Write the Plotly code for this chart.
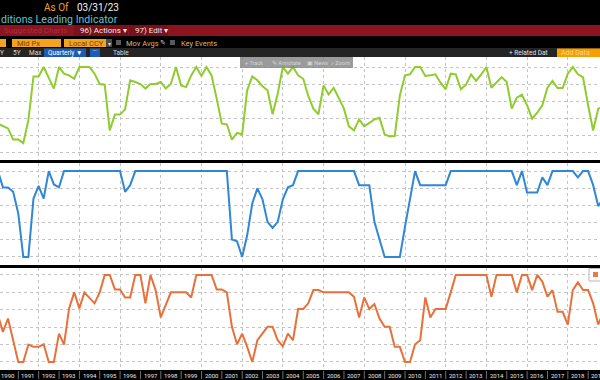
import plotly.graph_objects as go

# ---------------- data (quarter-end observations) ----------------
dates = []
for yr in range(1989, 2020):
    for md in ["03-31", "06-30", "09-30", "12-31"]:
        d = f"{yr}-{md}"
        if "1989-12-31" <= d <= "2019-09-30":
            dates.append(d)

green_vals = [1.67, 1.53, 1.39, 0.73, 0.73, 0.53, 1.86, 4.45, 4.45, 5.0, 4.41,
              3.73, 5.0, 4.61, 4.51, 4.31, 5.0, 5.0, 5.0, 4.61, 4.0,
              3.96, 1.27, 2.2, 2.2, 2.51, 4.22, 4.12, 4.0, 3.73, 4.0,
              4.0, 4.12, 3.73, 4.0, 5.0, 3.92, 3.82, 4.51, 5.0, 4.47,
              5.0, 4.51, 3.14, 1.67, 1.63, 0.73, 1.12, 1.04, 3.63, 4.45,
              4.22, 3.86, 3.63, 2.22, 3.43, 5.0, 4.61, 5.0, 4.51, 4.31,
              3.31, 2.55, 2.22, 3.92, 3.39, 3.78, 3.18, 2.55, 1.51, 1.27,
              1.92, 1.51, 1.71, 1.92, 2.02, 1.04, 0.92, 0.94, 3.33, 4.51,
              4.57, 5.0, 5.0, 4.47, 4.51, 4.57, 4.08, 3.69, 4.61, 4.57,
              3.69, 3.96, 4.57, 4.18, 4.57, 5.0, 3.78, 4.12, 4.41, 4.12,
              2.55, 3.2, 3.37, 2.75, 1.96, 2.31, 2.75, 3.78, 4.18, 3.76,
              3.76, 4.61, 5.0, 4.57, 4.41, 2.75, 1.27, 2.55, 2.65]

blue_vals = [5.0, 4.05, 4.05, 3.79, 2.53, 0.0, 0.0, 3.4, 4.14, 3.4, 5.0,
             4.22, 4.05, 5.0, 5.0, 5.0, 5.0, 5.0, 5.0, 5.0, 5.0,
             5.0, 5.0, 5.0, 5.0, 3.79, 4.18, 5.0, 5.0, 5.0, 5.0,
             5.0, 5.0, 5.0, 5.0, 5.0, 5.0, 5.0, 5.0, 5.0, 5.0,
             5.0, 5.0, 5.0, 5.0, 5.0, 1.01, 0.91, 0.0, 1.26, 3.11,
             3.99, 3.35, 2.04, 1.69, 2.04, 3.35, 4.05, 4.18, 5.0, 5.0,
             5.0, 5.0, 5.0, 5.0, 5.0, 5.0, 5.0, 5.0, 5.0, 5.0,
             4.18, 4.18, 4.18, 2.04, 1.07, 0.0, 0.0, 0.0, 0.0, 1.75,
             3.39, 5.0, 4.18, 4.18, 4.18, 4.18, 4.18, 4.18, 5.0, 5.0,
             5.0, 5.0, 5.0, 5.0, 5.0, 5.0, 5.0, 5.0, 5.0, 5.0,
             5.0, 4.18, 5.0, 3.75, 3.75, 3.75, 4.63, 4.18, 5.0, 5.0,
             5.0, 5.0, 5.0, 4.63, 5.0, 5.0, 4.18, 2.96, 3.4]

orange_vals = [2.69, 1.73, 2.5, 1.25, 0.0, 0.0, 1.0, 0.87, 0.87, 1.02, 0.0,
               0.0, 1.63, 1.0, 3.08, 4.0, 3.08, 4.0, 3.71, 3.37, 4.0,
               5.0, 5.0, 4.17, 4.17, 3.71, 3.71, 5.0, 5.0, 3.37, 5.0,
               4.13, 2.56, 3.27, 4.0, 4.0, 4.0, 4.0, 3.71, 5.0, 5.0,
               5.0, 5.0, 4.17, 4.17, 4.0, 2.02, 1.02, 1.63, 0.87, 0.0,
               1.25, 1.63, 2.02, 2.02, 1.25, 0.9, 1.63, 1.25, 3.04, 3.04,
               3.37, 4.13, 4.13, 4.0, 4.0, 4.0, 4.0, 4.0, 4.0, 3.75,
               2.56, 3.71, 3.04, 3.33, 2.5, 2.02, 2.02, 0.87, 0.87, 0.0,
               0.0, 1.02, 1.25, 3.71, 2.56, 3.04, 3.04, 3.04, 4.0, 5.0,
               5.0, 5.0, 5.0, 5.0, 5.0, 5.0, 3.75, 5.0, 5.0, 5.0,
               5.0, 4.0, 5.0, 5.0, 4.13, 5.0, 4.62, 3.75, 4.13, 2.88,
               2.88, 2.15, 4.13, 4.58, 4.13, 4.13, 3.37, 2.15, 2.88]

year_labels = [str(y) for y in range(1990, 2020)]

# ---------------- figure ----------------
W, H = 600, 380
def px(x): return x / W
def py(y): return 1 - y / H

fig = go.Figure()
fig.add_trace(go.Scatter(x=dates, y=green_vals, mode="lines",
                         line=dict(color="#8fcc2e", width=2), xaxis="x", yaxis="y"))
fig.add_trace(go.Scatter(x=dates, y=blue_vals, mode="lines",
                         line=dict(color="#2f87d6", width=2), xaxis="x2", yaxis="y2"))
fig.add_trace(go.Scatter(x=dates, y=orange_vals, mode="lines",
                         line=dict(color="#e8703a", width=2), xaxis="x3", yaxis="y3"))

xr = ["1990-02-06", "2019-08-01"]
xcommon = dict(range=xr, type="date", showticklabels=False, showgrid=True,
               gridcolor="#c4c4c4", griddash="dot", gridwidth=1,
               tick0="1992-01-01", dtick="M24", zeroline=False, showline=False, ticks="")
ycommon = dict(showticklabels=False, showgrid=True, gridcolor="#c4c4c4",
               griddash="dot", gridwidth=1, tick0=0, dtick=1,
               zeroline=False, showline=False, ticks="")

fig.update_layout(
    width=W, height=H, margin=dict(l=0, r=0, t=0, b=0),
    paper_bgcolor="#000000", plot_bgcolor="#ffffff", showlegend=False,
    xaxis=dict(xcommon, domain=[0, 1], anchor="y"),
    xaxis2=dict(xcommon, domain=[0, 1], anchor="y2"),
    xaxis3=dict(xcommon, domain=[0, 1], anchor="y3"),
    yaxis=dict(ycommon, domain=[py(160), py(57)], range=[-0.47, 5.59], anchor="x"),
    yaxis2=dict(ycommon, domain=[py(265), py(163)], range=[-0.47, 5.47], anchor="x2"),
    yaxis3=dict(ycommon, domain=[py(370), py(268)], range=[-0.46, 5.40], anchor="x3"),
)

shapes = []
ann = []
def rect(x0, y0, x1, y1, fill, line=None):
    shapes.append(dict(type="rect", xref="paper", yref="paper",
                       x0=px(x0), x1=px(x1), y0=py(y1), y1=py(y0),
                       fillcolor=fill, line=dict(width=1 if line else 0, color=line or fill),
                       layer="above"))
def text(x, y, s, color, size=8, anchor="left", family="Roboto, sans-serif"):
    ann.append(dict(xref="paper", yref="paper", x=px(x), y=py(y), text=s,
                    showarrow=False, xanchor=anchor, yanchor="middle",
                    font=dict(color=color, size=size, family=family)))

# header
text(42, 8, "As Of", "#f0a030", 10)
text(75, 8, "03/31/23", "#f2f2f2", 10)
text(-1, 20, "ditions Leading Indicator", "#5cc5d2", 10.6)
# red bar
rect(0, 25, 600, 36, "#8b1420")
rect(74, 25, 128, 36, "#7a1019")
rect(129, 25, 168, 36, "#7a1019")
text(2, 30.5, "Suggested Charts", "#a8303e", 8)
text(78, 30.5, "96) Actions ▾", "#f2e6e6", 8)
text(133, 30.5, "97) Edit ▾", "#f2e6e6", 8)
# row of inputs
rect(0, 39, 6, 47, "#f5a31a")
rect(12, 39, 61, 47, "#f5a31a")
text(15, 43, "Mid Px", "#7a4200", 7.5)
rect(64, 39, 106, 47, "#f5a31a")
text(67, 43, "Local CCY", "#7a4200", 7.5)
rect(106, 39, 112, 47, "#4a4a4a")
text(109, 43, "▾", "#dddddd", 6, anchor="center")
rect(116, 40, 121, 45, "#5a5a5a")
text(124, 43, "Mov Avgs", "#ddb676", 7.5)
text(158, 43, "✎", "#cfcfcf", 7)
rect(170, 40, 175, 45, "#5a5a5a")
text(179, 43, "Key Events", "#ddb676", 7.5)
# period row
rect(0, 48, 600, 57, "#242424")
text(-2, 52.5, "Y", "#d8d8d8", 6.5)
text(11, 52.5, "5Y", "#d8d8d8", 6.5)
text(27, 52.5, "Max", "#d8d8d8", 6.5)
rect(44, 48.5, 86, 57, "#1c5cb8")
text(46, 52.5, "Quarterly ▼", "#ffffff", 6.5)
rect(90, 48.5, 100, 57, "#1c5cb8")
text(95, 52.5, "⌒", "#ffffff", 6, anchor="center")
text(111, 52.5, "Table", "#d8d8d8", 6.5)
text(507, 52.5, "+ Related Dat", "#e0e0e0", 6.5)
rect(557, 48.5, 600, 57, "#f5a000")
text(559, 52.5, "Add Data", "#fbd48a", 7)
# chart toolbar overlay
shapes.append(dict(type="rect", xref="paper", yref="paper", x0=px(240), x1=px(353),
                   y0=py(68), y1=py(57), fillcolor="rgba(130,130,130,0.8)",
                   line=dict(width=0), layer="above"))
text(243, 62.5, "+ Track", "#d6d6d6", 5.5)
text(270, 62.5, "✎ Annotate", "#d6d6d6", 5.5)
text(305, 62.5, "▣ News", "#d6d6d6", 5.5)
text(329, 62.5, "⌕ Zoom", "#d6d6d6", 5.5)
# legend chip in lower panel
rect(589, 268.5, 603, 281, "#ffffff", "#b8b8b8")
rect(593, 272, 598, 277, "#ea7a48")

# bottom year strip
rect(0, 370, 600, 380, "#000000")
for y in range(1991, 2020):
    shapes.append(dict(type="line", xref="x3", yref="paper",
                       x0=f"{y}-01-01", x1=f"{y}-01-01", y0=py(379), y1=py(371),
                       line=dict(color="#707070", width=1), layer="above"))
for lab in year_labels:
    ann.append(dict(xref="x3", yref="paper", x=f"{lab}-07-02", y=py(375), text=lab,
                    showarrow=False, xanchor="center", yanchor="middle",
                    font=dict(color="#e8e8e8", size=6, family="Roboto, sans-serif")))

fig.update_layout(shapes=shapes, annotations=ann)
fig.write_html("out.html", config={"displayModeBar": False},
               post_script="document.body.style.margin='0';document.body.style.background='#000';")
